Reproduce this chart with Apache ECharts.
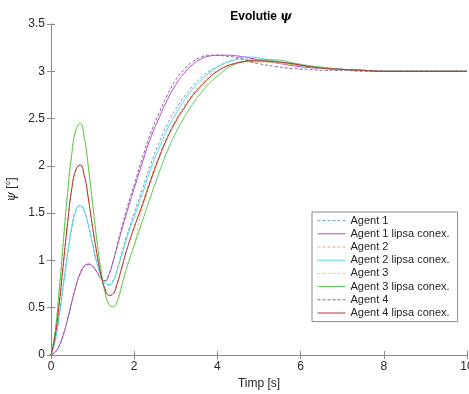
<!DOCTYPE html>
<html>
<head>
<meta charset="utf-8">
<script src="https://cdn.jsdelivr.net/npm/echarts@6/dist/echarts.min.js"></script>
<style>
  html, body { margin: 0; padding: 0; background: #fff; }
  #chart { width: 469px; height: 394px; }
</style>
</head>
<body>
<div id="chart"></div>
<script>
// Time samples [s]
const time = [0,0.1,0.2,0.3,0.4,0.5,0.6,0.7,0.8,0.9,1.0,1.1,1.2,1.3,1.4,1.5,1.6,1.7,1.8,1.9,2.0,
  2.2,2.4,2.6,2.8,3.0,3.2,3.4,3.6,3.8,4.0,4.2,4.4,4.6,4.8,5.0,
  5.4,5.8,6.2,6.6,7.0,7.5,8.0,9.0,10.0];

// psi [deg] per agent, with connection (dashed) and without (solid)
const agent1 = [0,0.15,0.42,0.75,1.07,1.35,1.53,1.58,1.52,1.37,1.17,0.98,0.84,0.76,0.74,0.79,0.92,1.08,1.23,1.37,1.50,
  1.76,2.02,2.25,2.44,2.60,2.73,2.84,2.93,3.00,3.05,3.09,3.12,3.13,3.13,3.12,
  3.10,3.07,3.05,3.03,3.02,3.01,3.00,3.00,3.00];
const agent1Lost = [0,0.03,0.10,0.22,0.38,0.56,0.73,0.86,0.94,0.96,0.94,0.88,0.81,0.785,0.86,1.00,1.16,1.32,1.47,1.62,1.76,
  2.04,2.30,2.51,2.70,2.86,2.98,3.07,3.13,3.16,3.17,3.17,3.165,3.155,3.14,3.12,
  3.09,3.06,3.04,3.03,3.02,3.01,3.00,3.00,3.00];
const agent2 = [0,0.20,0.55,0.98,1.40,1.76,1.96,2.01,1.90,1.65,1.35,1.08,0.85,0.70,0.63,0.65,0.77,0.92,1.08,1.22,1.35,
  1.61,1.87,2.11,2.32,2.49,2.63,2.76,2.86,2.95,3.01,3.05,3.08,3.10,3.10,3.10,
  3.09,3.07,3.05,3.03,3.02,3.01,3.00,3.00,3.00];
const agent2Lost = [0,0.15,0.42,0.75,1.07,1.35,1.53,1.58,1.52,1.37,1.17,0.98,0.84,0.76,0.74,0.79,0.91,1.06,1.20,1.34,1.46,
  1.71,1.97,2.19,2.39,2.55,2.69,2.81,2.90,2.98,3.04,3.09,3.12,3.15,3.15,3.14,
  3.11,3.08,3.05,3.03,3.02,3.01,3.00,3.00,3.00];
const agent3 = [0,0.25,0.70,1.22,1.72,2.13,2.38,2.45,2.30,1.98,1.60,1.22,0.90,0.66,0.53,0.51,0.58,0.74,0.90,1.04,1.17,
  1.55,1.83,2.08,2.29,2.47,2.61,2.74,2.84,2.93,3.00,3.05,3.08,3.10,3.10,3.10,
  3.09,3.07,3.05,3.03,3.02,3.01,3.00,3.00,3.00];
const agent3Lost = [0,0.25,0.70,1.22,1.72,2.13,2.38,2.45,2.30,1.98,1.60,1.22,0.90,0.66,0.53,0.51,0.58,0.73,0.89,1.03,1.16,
  1.42,1.68,1.93,2.16,2.35,2.51,2.65,2.77,2.87,2.95,3.02,3.07,3.10,3.12,3.12,
  3.12,3.09,3.06,3.04,3.02,3.01,3.00,3.00,3.00];
const agent4 = [0,0.03,0.10,0.22,0.38,0.56,0.73,0.86,0.94,0.96,0.94,0.88,0.81,0.785,0.86,1.00,1.18,1.35,1.51,1.66,1.80,
  2.09,2.35,2.56,2.75,2.91,3.02,3.10,3.15,3.17,3.17,3.16,3.15,3.13,3.10,3.08,
  3.05,3.03,3.02,3.01,3.01,3.00,3.00,3.00,3.00];
const agent4Lost = [0,0.20,0.55,0.98,1.40,1.76,1.96,2.01,1.90,1.65,1.35,1.08,0.85,0.70,0.63,0.65,0.77,0.92,1.08,1.22,1.35,
  1.59,1.85,2.09,2.30,2.47,2.61,2.74,2.84,2.93,3.00,3.05,3.08,3.10,3.11,3.11,
  3.10,3.08,3.05,3.03,3.02,3.01,3.00,3.00,3.00];

const seriesNames = ['Agent 1','Agent 1 lipsa conex.','Agent 2','Agent 2 lipsa conex.',
  'Agent 3','Agent 3 lipsa conex.','Agent 4','Agent 4 lipsa conex.'];
const seriesData = [agent1, agent1Lost, agent2, agent2Lost, agent3, agent3Lost, agent4, agent4Lost];
const seriesColors = ['#6c9fc4','#c43fd0','#e5a36e','#4fd6e6','#e9d36a','#55c955','#7f6790','#b5302f'];
const dashed = [true,false,true,false,true,false,true,false];

const FONT = '"Liberation Sans", Arial, sans-serif';
const AX = '#262626';

const chart = echarts.init(document.getElementById('chart'), null, { renderer: 'canvas' });

const pairs = d => time.map((t, i) => [t, d[i]]);

const boxAxis = {
  axisLine: { show: true, lineStyle: { color: '#8a8a8a', width: 1 } },
  axisTick: { show: true, inside: true, length: 4, lineStyle: { color: '#8a8a8a' } },
  splitLine: { show: false }
};

chart.setOption({
  animation: false,
  backgroundColor: '#fff',
  title: {
    text: '{b|Evolutie }{p|ψ}',
    left: 256, top: 6, textAlign: 'center',
    textStyle: {
      rich: {
        b: { fontFamily: FONT, fontWeight: 'bold', fontSize: 12, color: '#000' },
        p: { fontFamily: '"DejaVu Serif", serif', fontStyle: 'italic', fontSize: 12, color: '#000' }
      }
    }
  },
  grid: { left: 51, top: 24, right: 2, bottom: 39, containLabel: false, outerBoundsMode: 'none' },
  legend: {
    orient: 'vertical', left: 312, top: 212,
    itemWidth: 28, itemHeight: 14, itemGap: 2,
    padding: [3, 8, 3, 5],
    backgroundColor: '#fff', borderColor: '#8a8a8a', borderWidth: 1,
    itemStyle: { opacity: 0 },
    lineStyle: { width: 1 },
    textStyle: { fontFamily: FONT, fontSize: 11, color: AX },
    data: seriesNames
  },
  xAxis: [
    Object.assign({
      type: 'value', min: 0, max: 10, interval: 2, position: 'bottom',
      name: 'Timp [s]', nameLocation: 'middle', nameGap: 22,
      nameTextStyle: { fontFamily: FONT, fontSize: 12, color: AX },
      axisLabel: { fontFamily: FONT, fontSize: 12, color: AX, margin: 6 }
    }, boxAxis),
    Object.assign({
      type: 'value', min: 0, max: 10, interval: 2, position: 'top',
      axisLabel: { show: false }
    }, boxAxis)
  ],
  yAxis: [
    Object.assign({
      type: 'value', min: 0, max: 3.5, interval: 0.5, position: 'left',
      name: '{p|ψ} [°]', nameLocation: 'middle', nameGap: 32, nameRotate: 90,
      nameTextStyle: {
        fontFamily: FONT, fontSize: 12, color: AX,
        rich: { p: { fontFamily: '"DejaVu Serif", serif', fontStyle: 'italic', fontSize: 12, color: AX } }
      },
      axisLabel: { fontFamily: FONT, fontSize: 12, color: AX, margin: 6 }
    }, boxAxis),
    Object.assign({
      type: 'value', min: 0, max: 3.5, interval: 0.5, position: 'right',
      axisLabel: { show: false }
    }, boxAxis)
  ],
  series: seriesNames.map((name, k) => ({
    name: name,
    type: 'line',
    data: pairs(seriesData[k]),
    xAxisIndex: 0, yAxisIndex: 0,
    symbol: 'none',
    smooth: 0.5,
    color: seriesColors[k],
    lineStyle: { width: 1, color: seriesColors[k], type: dashed[k] ? [3, 2] : 'solid' },
    z: 2 + k
  }))
});
</script>
</body>
</html>
